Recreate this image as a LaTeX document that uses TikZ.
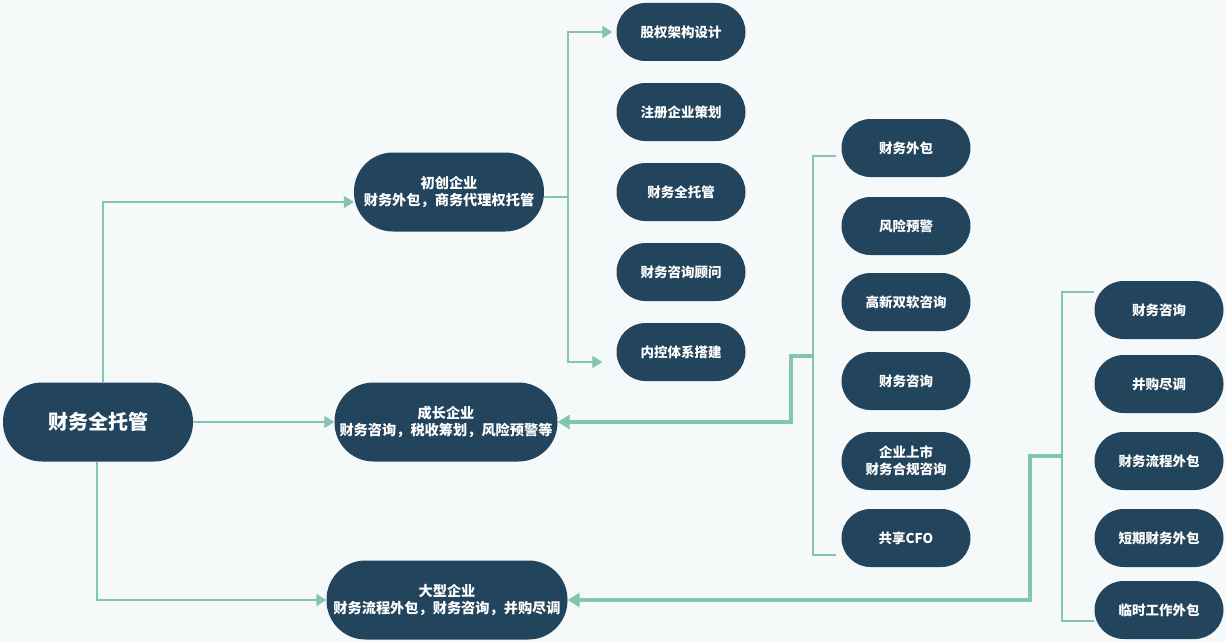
\documentclass[tikz,border=0pt]{standalone}
\usepackage{fontspec}
\setmainfont{Noto Sans CJK SC}
\usetikzlibrary{arrows.meta, positioning, calc}
\definecolor{navy}{HTML}{22445C}
\definecolor{mint}{HTML}{84C5B2}
\definecolor{paper}{HTML}{F6F9FA}

\begin{document}
\begin{tikzpicture}[
    x=1pt, y=-1pt,
    root/.style={
        rectangle, fill=navy, text=white,
        rounded corners=39pt,
        minimum width=190pt, minimum height=79pt, align=center,
        font=\bfseries\fontsize{20}{24}\selectfont
    },
    stage/.style={
        rectangle, fill=navy, text=white,
        rounded corners=39pt,
        minimum height=79pt, align=center,
        font=\bfseries\fontsize{14.2}{17.5}\selectfont
    },
    service/.style={
        rectangle, fill=navy, text=white,
        rounded corners=29pt,
        minimum width=129pt, minimum height=58pt, align=center,
        font=\bfseries\fontsize{13.5}{17}\selectfont
    },
    link/.style={draw=mint, line width=2pt},
    arrowlink/.style={link, -{Triangle[length=10pt, width=12pt]}},
    thicklink/.style={draw=mint, line width=3.5pt, -{Triangle[length=12pt, width=14pt]}}
]

\fill[paper] (0,0) rectangle (1226,642);
\useasboundingbox (0,0) rectangle (1226,642);

% ---------------------------------------------------------------------
% 1. ROOT AND STAGES
% ---------------------------------------------------------------------
\node[root] (Root) at (98, 422) {财务全托管};

\node[stage, minimum width=190pt] (Startup) at (449, 192) {初创企业\\财务外包，商务代理权托管};
\node[stage, minimum width=223pt] (Growth) at (446, 422) {成长企业\\财务咨询，税收筹划，风险预警等};
\node[stage, minimum width=241pt] (Large) at (447, 600) {大型企业\\财务流程外包，财务咨询，并购尽调};

\draw[arrowlink] ([xshift=5pt]Root.north) |- ([yshift=-10pt]Startup.west);
\draw[arrowlink] (Root.east) -- (Growth.west);
\draw[arrowlink] ([xshift=-1pt]Root.south) |- (Large.west);

% ---------------------------------------------------------------------
% 2. STARTUP SERVICES
% ---------------------------------------------------------------------
\node[service] (Start1) at (681, 32) {股权架构设计};
\node[service] (Start2) at (681, 112) {注册企业策划};
\node[service] (Start3) at (681, 192) {财务全托管};
\node[service] (Start4) at (681, 272) {财务咨询顾问};
\node[service] (Start5) at (681, 352) {内控体系搭建};

\coordinate (Trunk1) at (568, 197);
\draw[link] ([yshift=-5pt]Startup.east) -- (Trunk1);
\draw[arrowlink] (Trunk1) |- ([xshift=-4pt]Start1.west);
\draw[arrowlink] (Trunk1) |- ([xshift=-14pt, yshift=-10pt]Start5.west);

% ---------------------------------------------------------------------
% 3. GROWTH SERVICES
% ---------------------------------------------------------------------
\node[service] (Grow1) at (906, 148) {财务外包};
\node[service] (Grow2) at (906, 226) {风险预警};
\node[service] (Grow3) at (906, 302) {高新双软咨询};
\node[service] (Grow4) at (906, 381) {财务咨询};
\node[service] (Grow5) at (906, 461) {企业上市\\财务合规咨询};
\node[service] (Grow6) at (906, 538) {共享CFO};

\coordinate (Brace2) at (813, 356);
\draw[link] ([xshift=-5pt, yshift=-8pt]Grow1.west) -| (Brace2) |- ([xshift=-5pt, yshift=-17pt]Grow6.west);
\draw[thicklink] (Brace2) -- ++(-22, 0) |- (Growth.east);

% ---------------------------------------------------------------------
% 4. LARGE ENTERPRISE SERVICES
% ---------------------------------------------------------------------
\node[service] (Big1) at (1159, 310) {财务咨询};
\node[service] (Big2) at (1159, 384) {并购尽调};
\node[service] (Big3) at (1159, 461) {财务流程外包};
\node[service] (Big4) at (1159, 538) {短期财务外包};
\node[service] (Big5) at (1159, 610) {临时工作外包};

\coordinate (Brace3) at (1062, 456);
\draw[link] ([yshift=18pt]Big1.west) -| (Brace3) |- ([yshift=-11pt]Big5.west);
\draw[thicklink] (Brace3) -- ++(-32, 0) |- (Large.east);

\end{tikzpicture}
\end{document}
